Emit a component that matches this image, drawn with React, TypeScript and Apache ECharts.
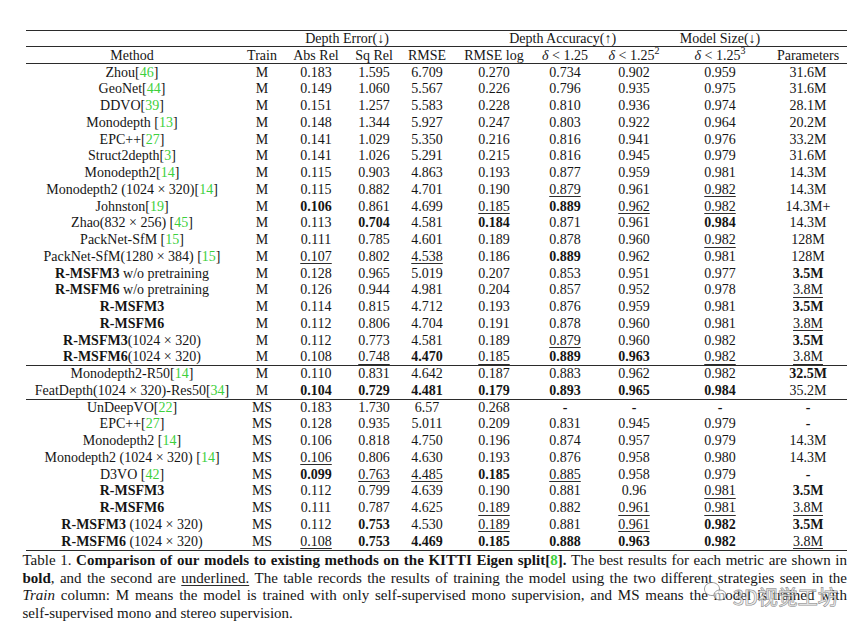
import React, { useEffect, useRef } from "react";
import * as echarts from "echarts";

// ---------------- data ----------------
// markup: **bold**  ~italic~  {green citation}  ^superscript^  _underline_
const groupHeaders = ["Depth Error(↓)", "Depth Accuracy(↑)", "Model Size(↓)"];

const columnHeaders = [
  "Method", "Train", "Abs Rel", "Sq Rel", "RMSE", "RMSE log",
  "~δ~ < 1.25", "~δ~ < 1.25^2^", "~δ~ < 1.25^3^", "Parameters",
];

const methods = [
  "Zhou[{46}]",
  "GeoNet[{44}]",
  "DDVO[{39}]",
  "Monodepth [{13}]",
  "EPC++[{27}]",
  "Struct2depth[{3}]",
  "Monodepth2[{14}]",
  "Monodepth2 (1024 × 320)[{14}]",
  "Johnston[{19}]",
  "Zhao(832 × 256) [{45}]",
  "PackNet-SfM [{15}]",
  "PackNet-SfM(1280 × 384) [{15}]",
  "**R-MSFM3** w/o pretraining",
  "**R-MSFM6** w/o pretraining",
  "**R-MSFM3**",
  "**R-MSFM6**",
  "**R-MSFM3**(1024 × 320)",
  "**R-MSFM6**(1024 × 320)",
  "Monodepth2-R50[{14}]",
  "FeatDepth(1024 × 320)-Res50[{34}]",
  "UnDeepVO[{22}]",
  "EPC++[{27}]",
  "Monodepth2 [{14}]",
  "Monodepth2 (1024 × 320) [{14}]",
  "D3VO [{42}]",
  "**R-MSFM3**",
  "**R-MSFM6**",
  "**R-MSFM3** (1024 × 320)",
  "**R-MSFM6** (1024 × 320)",
];

const trainMode = [
  "M", "M", "M", "M", "M", "M", "M", "M", "M", "M", "M", "M", "M", "M", "M", "M", "M", "M",
  "M", "M",
  "MS", "MS", "MS", "MS", "MS", "MS", "MS", "MS", "MS",
];

const absRel = [
  "0.183", "0.149", "0.151", "0.148", "0.141", "0.141", "0.115", "0.115", "**0.106**", "0.113",
  "0.111", "_0.107_", "0.128", "0.126", "0.114", "0.112", "0.112", "0.108",
  "0.110", "**0.104**",
  "0.183", "0.128", "0.106", "_0.106_", "**0.099**", "0.112", "0.111", "0.112", "_0.108_",
];

const sqRel = [
  "1.595", "1.060", "1.257", "1.344", "1.029", "1.026", "0.903", "0.882", "0.861", "**0.704**",
  "0.785", "0.802", "0.965", "0.944", "0.815", "0.806", "0.773", "_0.748_",
  "0.831", "**0.729**",
  "1.730", "0.935", "0.818", "0.806", "_0.763_", "0.799", "0.787", "**0.753**", "**0.753**",
];

const rmse = [
  "6.709", "5.567", "5.583", "5.927", "5.350", "5.291", "4.863", "4.701", "4.699", "4.581",
  "4.601", "_4.538_", "5.019", "4.981", "4.712", "4.704", "4.581", "**4.470**",
  "4.642", "**4.481**",
  "6.57", "5.011", "4.750", "4.630", "_4.485_", "4.639", "4.625", "4.530", "**4.469**",
];

const rmseLog = [
  "0.270", "0.226", "0.228", "0.247", "0.216", "0.215", "0.193", "0.190", "_0.185_", "**0.184**",
  "0.189", "0.186", "0.207", "0.204", "0.193", "0.191", "0.189", "_0.185_",
  "0.187", "**0.179**",
  "0.268", "0.209", "0.196", "0.193", "**0.185**", "0.190", "_0.189_", "_0.189_", "**0.185**",
];

const acc1 = [
  "0.734", "0.796", "0.810", "0.803", "0.816", "0.816", "0.877", "_0.879_", "**0.889**", "0.871",
  "0.878", "**0.889**", "0.853", "0.857", "0.876", "0.878", "_0.879_", "**0.889**",
  "0.883", "**0.893**",
  "**-**", "0.831", "0.874", "0.876", "_0.885_", "0.881", "0.882", "0.881", "**0.888**",
];

const acc2 = [
  "0.902", "0.935", "0.936", "0.922", "0.941", "0.945", "0.959", "0.961", "_0.962_", "0.961",
  "0.960", "0.962", "0.951", "0.952", "0.959", "0.960", "0.960", "**0.963**",
  "0.962", "**0.965**",
  "**-**", "0.945", "0.957", "0.958", "0.958", "0.96", "_0.961_", "_0.961_", "**0.963**",
];

const acc3 = [
  "0.959", "0.975", "0.974", "0.964", "0.976", "0.979", "0.981", "_0.982_", "_0.982_", "**0.984**",
  "_0.982_", "0.981", "0.977", "0.978", "0.981", "0.981", "0.982", "_0.982_",
  "0.982", "**0.984**",
  "**-**", "0.979", "0.979", "0.980", "0.979", "_0.981_", "_0.981_", "**0.982**", "**0.982**",
];

const parameters = [
  "31.6M", "31.6M", "28.1M", "20.2M", "33.2M", "31.6M", "14.3M", "14.3M", "14.3M+", "14.3M",
  "128M", "128M", "**3.5M**", "_3.8M_", "**3.5M**", "_3.8M_", "**3.5M**", "_3.8M_",
  "**32.5M**", "35.2M",
  "**-**", "**-**", "14.3M", "14.3M", "**-**", "**3.5M**", "_3.8M_", "**3.5M**", "_3.8M_",
];

// rows after which a horizontal rule separates groups
const groupBreaks = [17, 19];

const captionLines = [
  "Table 1. **Comparison of our models to existing methods on the KITTI Eigen split[{8}].** The best results for each metric are shown in",
  "**bold**, and the second are _underlined._ The table records the results of training the model using the two different strategies seen in the",
  "~Train~ column: M means the model is trained with only self-supervised mono supervision, and MS means the model is trained with",
  "self-supervised mono and stereo supervision.",
];

// ---------------- layout ----------------
const W = 868;
const H = 633;
const FONT = '"Liberation Serif", "Times New Roman", Times, serif';
const INK = "#151515";
const CITE = "#3dd03d";
const RULE = "#2b2b2b";
const SIZE = 14;
const CAP_SIZE = 15;
const LEFT = 26;
const RIGHT = 847;
const colCenters = [132, 262, 316, 374, 427, 494, 565, 634, 720, 808];
const groupCenters = [347, 563, 720];
const ROW0 = 72;
const ROW_H = 16.75;

type Seg = { t: string; b: boolean; i: boolean; g: boolean; s: boolean; u: boolean };

function parse(src: string): Seg[] {
  const segs: Seg[] = [];
  let st = { b: false, i: false, g: false, s: false, u: false };
  let buf = "";
  const flush = () => {
    if (buf) {
      segs.push({ t: buf, ...st });
      buf = "";
    }
  };
  for (let k = 0; k < src.length; k++) {
    const c = src[k];
    if (c === "*" && src[k + 1] === "*") { flush(); st = { ...st, b: !st.b }; k++; continue; }
    if (c === "~") { flush(); st = { ...st, i: !st.i }; continue; }
    if (c === "{") { flush(); st = { ...st, g: true }; continue; }
    if (c === "}") { flush(); st = { ...st, g: false }; continue; }
    if (c === "^") { flush(); st = { ...st, s: !st.s }; continue; }
    if (c === "_") { flush(); st = { ...st, u: !st.u }; continue; }
    buf += c;
  }
  flush();
  return segs;
}

function splitWords(segs: Seg[]): Seg[][] {
  const words: Seg[][] = [[]];
  for (const sg of segs) {
    const parts = sg.t.split(" ");
    parts.forEach((p, idx) => {
      if (idx > 0) words.push([]);
      if (p) words[words.length - 1].push({ ...sg, t: p });
    });
  }
  return words.filter((w) => w.length > 0);
}

let measureCtx: CanvasRenderingContext2D | null = null;
function fontSizeOf(sg: Seg, size: number) {
  return sg.s ? Math.round(size * 0.7) : size;
}
function measure(sg: Seg, size: number): number {
  if (!measureCtx) measureCtx = document.createElement("canvas").getContext("2d");
  const ctx = measureCtx!;
  ctx.font = `${sg.i ? "italic " : ""}${sg.b ? "bold " : ""}${fontSizeOf(sg, size)}px ${FONT}`;
  return ctx.measureText(sg.t).width;
}

function emit(out: any[], segs: Seg[], x0: number, y: number, size: number): number {
  let x = x0;
  for (const sg of segs) {
    const w = measure(sg, size);
    out.push({
      type: "text",
      x,
      y: sg.s ? y - size * 0.33 : y,
      silent: true,
      style: {
        text: sg.t,
        fontFamily: FONT,
        fontSize: fontSizeOf(sg, size),
        fontWeight: sg.b ? "bold" : "normal",
        fontStyle: sg.i ? "italic" : "normal",
        fill: sg.g ? CITE : INK,
        textAlign: "left",
        textVerticalAlign: "middle",
      },
    });
    if (sg.u) {
      const uy = Math.round(y + size * 0.5) + 0.5;
      out.push({
        type: "line",
        silent: true,
        shape: { x1: x, y1: uy, x2: x + w, y2: uy },
        style: { stroke: INK, lineWidth: 0.9 },
      });
    }
    x += w;
  }
  return x;
}

function centered(out: any[], text: string, cx: number, y: number, size: number) {
  const segs = parse(text);
  const total = segs.reduce((a, s) => a + measure(s, size), 0);
  emit(out, segs, cx - total / 2, y, size);
}

function rule(out: any[], y: number, lw = 1.1) {
  out.push({
    type: "line",
    silent: true,
    shape: { x1: LEFT, y1: y, x2: RIGHT, y2: y },
    style: { stroke: RULE, lineWidth: lw },
  });
}

function buildGraphic(): any[] {
  const out: any[] = [];
  const columns = [methods, trainMode, absRel, sqRel, rmse, rmseLog, acc1, acc2, acc3, parameters];
  const rowY = (i: number) => ROW0 + i * ROW_H;

  // rules
  rule(out, 30.5, 1.2);
  rule(out, 46.5);
  rule(out, 63.5);
  groupBreaks.forEach((r) => rule(out, Math.round(rowY(r + 0.5)) + 0.5));
  rule(out, Math.round(rowY(methods.length - 1) + 9) + 0.5, 1.2);

  // headers
  groupHeaders.forEach((g, k) => centered(out, g, groupCenters[k], 38.5, SIZE));
  columnHeaders.forEach((h, c) => centered(out, h, colCenters[c], 55, SIZE));

  // body
  for (let i = 0; i < methods.length; i++) {
    columns.forEach((col, c) => centered(out, col[i], colCenters[c], rowY(i), SIZE));
  }

  // caption (justified)
  const capL = 22.5;
  const capR = 847;
  captionLines.forEach((line, li) => {
    const y = 560 + li * 17.5;
    const words = splitWords(parse(line));
    const widths = words.map((w) => w.reduce((a, s) => a + measure(s, CAP_SIZE), 0));
    const sum = widths.reduce((a, b) => a + b, 0);
    const spaceW = measure({ t: " ", b: false, i: false, g: false, s: false, u: false }, CAP_SIZE);
    const last = li === captionLines.length - 1;
    const gap = last ? spaceW : Math.max(2, (capR - capL - sum) / (words.length - 1));
    let x = capL;
    words.forEach((w, k) => {
      emit(out, w, x, y, CAP_SIZE);
      x += widths[k] + gap;
    });
  });

  // watermark (WeChat-style overlay)
  out.push({
    type: "ellipse",
    silent: true,
    shape: { cx: 712, cy: 589, rx: 7.5, ry: 6.5 },
    style: { fill: "rgba(255,255,255,0.55)", stroke: "rgba(110,110,110,0.7)", lineWidth: 1 },
  });
  out.push({
    type: "ellipse",
    silent: true,
    shape: { cx: 720, cy: 595, rx: 6, ry: 5 },
    style: { fill: "rgba(255,255,255,0.55)", stroke: "rgba(110,110,110,0.7)", lineWidth: 1 },
  });
  out.push({
    type: "text",
    x: 733,
    y: 596,
    silent: true,
    style: {
      text: "3D视觉工坊",
      fontFamily: '"Noto Sans CJK SC", sans-serif',
      fontSize: 20,
      fill: "rgba(255,255,255,0.55)",
      stroke: "rgba(100,100,100,0.75)",
      lineWidth: 1,
      textAlign: "left",
      textVerticalAlign: "middle",
    },
  });

  return out;
}

export default function App() {
  const ref = useRef<HTMLDivElement>(null);
  useEffect(() => {
    if (!ref.current) return;
    const chart = echarts.init(ref.current, undefined, { renderer: "svg", width: W, height: H });
    chart.setOption({
      animation: false,
      backgroundColor: "#ffffff",
      graphic: { elements: buildGraphic() },
    });
    return () => chart.dispose();
  }, []);
  return (
    <div
      ref={ref}
      style={{ position: "fixed", left: 0, top: 0, width: W, height: H, background: "#fff" }}
    />
  );
}
